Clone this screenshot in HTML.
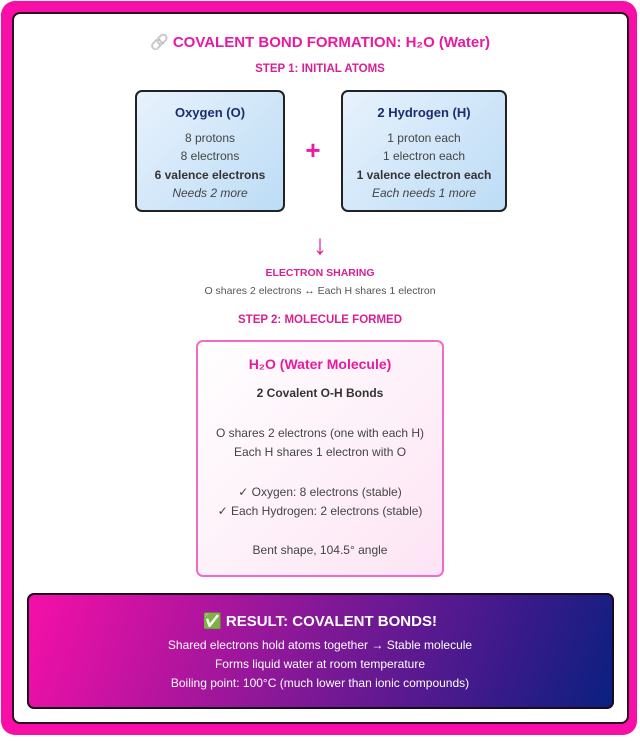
<!DOCTYPE html>
<html><head><style>
*{margin:0;padding:0;box-sizing:border-box}
body{width:640px;height:741px;background:#fff;position:relative;font-family:"Liberation Sans",sans-serif;overflow:hidden}
.outer{position:absolute;left:1px;top:1px;width:636px;height:734px;background:#f70fa8;border-radius:14px}
.inner{position:absolute;left:12px;top:12px;width:617px;height:712px;background:#fff;border:2px solid #2a1020;border-radius:8px}
.t{position:absolute;left:0;width:640px;text-align:center;white-space:nowrap}
.box{position:absolute;border:2px solid #222;border-radius:7px;text-align:center}
.atom{background:linear-gradient(135deg,#e8f2fc,#bcdcf6)}
.atom div{font-size:12px;color:#444;line-height:18.5px}
</style></head><body>
<div class="outer"></div>
<div class="inner"></div>
<div class="t" style="top:33px;font-size:15px;font-weight:bold;color:#e81aa0"><span style="filter:grayscale(1);opacity:0.6">🔗</span> COVALENT BOND FORMATION: H₂O (Water)</div>
<div class="t" style="top:63px;font-size:11.5px;font-weight:bold;color:#d81f94">STEP 1: INITIAL ATOMS</div>
<div class="box atom" style="left:135px;top:90px;width:150px;height:122px;padding-top:12px">
<div style="font-size:13px;font-weight:bold;color:#1b2d6e;margin-bottom:6px">Oxygen (O)</div>
<div>8 protons</div><div>8 electrons</div><div style="font-weight:bold;color:#333">6 valence electrons</div><div style="font-style:italic">Needs 2 more</div></div>
<div class="t" style="top:135px;left:-7px;font-size:26px;font-weight:bold;color:#ee1aa5">+</div>
<div class="box atom" style="left:341px;top:90px;width:166px;height:122px;padding-top:12px">
<div style="font-size:13px;font-weight:bold;color:#1b2d6e;margin-bottom:6px">2 Hydrogen (H)</div>
<div>1 proton each</div><div>1 electron each</div><div style="font-weight:bold;color:#333">1 valence electron each</div><div style="font-style:italic">Each needs 1 more</div></div>
<div class="t" style="top:229px;font-size:28px;color:#e81aa0">↓</div>
<div class="t" style="top:267px;font-size:10.5px;font-weight:bold;color:#d81f94">ELECTRON SHARING</div>
<div class="t" style="top:285px;font-size:10.5px;color:#555">O shares 2 electrons ↔ Each H shares 1 electron</div>
<div class="t" style="top:314px;font-size:11.5px;font-weight:bold;color:#d81f94">STEP 2: MOLECULE FORMED</div>
<div class="box" style="left:196px;top:340px;width:248px;height:237px;border-color:#f06cc4;background:linear-gradient(135deg,#fff,#fde4f4)"></div>
<div class="t" style="top:356px;font-size:14px;font-weight:bold;color:#e81aa0">H₂O (Water Molecule)</div>
<div class="t" style="top:386px;font-size:12px;font-weight:bold;color:#333">2 Covalent O-H Bonds</div>
<div class="t" style="top:426px;font-size:12px;color:#444">O shares 2 electrons (one with each H)</div>
<div class="t" style="top:445px;font-size:12px;color:#444">Each H shares 1 electron with O</div>
<div class="t" style="top:485px;font-size:12px;color:#444">✓ Oxygen: 8 electrons (stable)</div>
<div class="t" style="top:504px;font-size:12px;color:#444">✓ Each Hydrogen: 2 electrons (stable)</div>
<div class="t" style="top:543px;font-size:12px;color:#444">Bent shape, 104.5° angle</div>
<div class="box" style="left:27px;top:593px;width:587px;height:116px;border-color:#1a0a20;background:linear-gradient(110deg,#f60fa8 0%,#8a1898 45%,#3a1a8a 80%,#0a2080 100%)"></div>
<div class="t" style="top:612px;font-size:15px;font-weight:bold;color:#fff">✅ RESULT: COVALENT BONDS!</div>
<div class="t" style="top:638px;font-size:12px;color:#fff">Shared electrons hold atoms together → Stable molecule</div>
<div class="t" style="top:657px;font-size:12px;color:#fff">Forms liquid water at room temperature</div>
<div class="t" style="top:676px;font-size:12px;color:#fff">Boiling point: 100°C (much lower than ionic compounds)</div>
</body></html>
